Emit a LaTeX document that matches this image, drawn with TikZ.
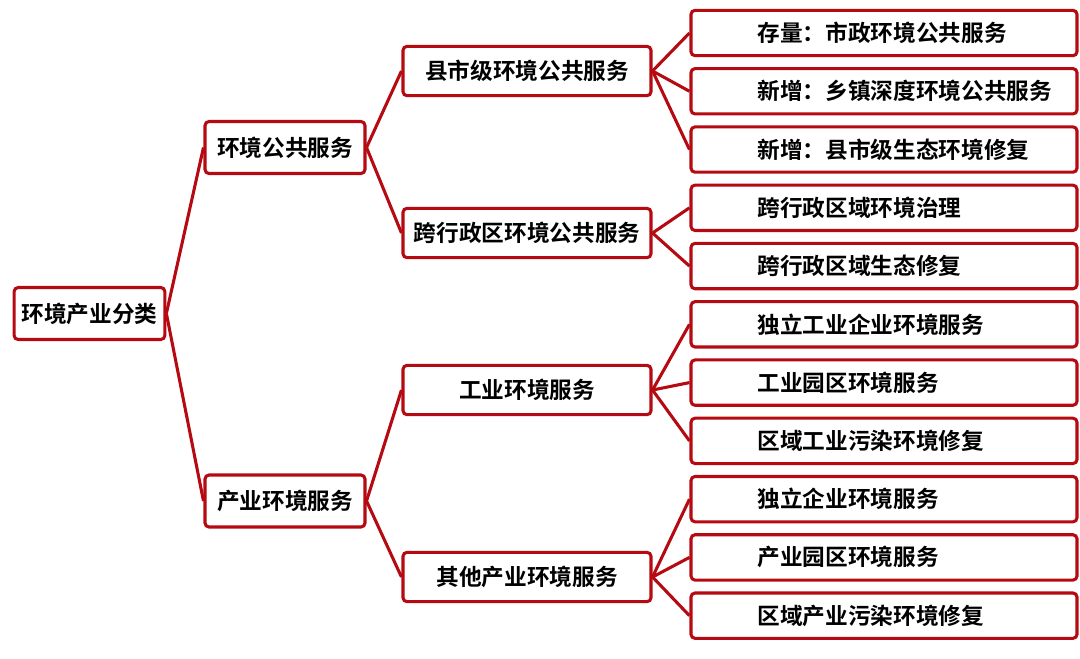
\documentclass[tikz,border=0pt]{standalone}
\usepackage{fontspec}
\setmainfont{Noto Sans CJK SC}[BoldFont={Noto Sans CJK SC Bold}]
\usetikzlibrary{positioning}
\definecolor{boxred}{RGB}{182,10,18}

\begin{document}
\begin{tikzpicture}[x=0.75pt,y=-0.75pt,
  box/.style={rectangle,draw=boxred,line width=2.3pt,rounded corners=3pt,fill=white,inner xsep=2pt,font=\bfseries\fontsize{17}{20}\selectfont},
  leaf/.style={box,minimum width=289.5pt,minimum height=34pt,text width=190pt,align=left},
  link/.style={draw=boxred,line width=2.3pt}]
  \useasboundingbox (0,0) rectangle (1080,658);
  % root and first level
  \node[box,minimum width=113pt,minimum height=39pt] (root) at (89.5,313.5) {环境产业分类};
  \node[box,minimum width=120pt,minimum height=39pt] (pub) at (285,147.5) {环境公共服务};
  \node[box,minimum width=120pt,minimum height=39pt] (ind) at (285,501) {产业环境服务};
  % second level
  \node[box,minimum width=186pt,minimum height=37pt] (county) at (527,71) {县市级环境公共服务};
  \node[box,minimum width=186pt,minimum height=37pt] (cross) at (527,233) {跨行政区环境公共服务};
  \node[box,minimum width=186pt,minimum height=37pt] (indserv) at (527,390) {工业环境服务};
  \node[box,minimum width=186pt,minimum height=37pt] (other) at (527,577) {其他产业环境服务};
  % leaves
  \node[leaf] (stock) at (884,33) {存量：市政环境公共服务};
  \node[leaf,below=7.4pt of stock] (town) {新增：乡镇深度环境公共服务};
  \node[leaf,below=7.4pt of town] (repair) {新增：县市级生态环境修复};
  \node[leaf,below=7.4pt of repair] (govern) {跨行政区域环境治理};
  \node[leaf,below=7.4pt of govern] (eco) {跨行政区域生态修复};
  \node[leaf,below=7.4pt of eco] (indfirm) {独立工业企业环境服务};
  \node[leaf,below=7.4pt of indfirm] (indpark) {工业园区环境服务};
  \node[leaf,below=7.4pt of indpark] (indfix) {区域工业污染环境修复};
  \node[leaf,below=7.4pt of indfix] (firm) {独立企业环境服务};
  \node[leaf,below=7.4pt of firm] (park) {产业园区环境服务};
  \node[leaf,below=7.4pt of park] (fix) {区域产业污染环境修复};
  % connectors
  \foreach \from/\to in {root/pub,root/ind,pub/county,pub/cross,ind/indserv,ind/other,
      county/stock,county/town,county/repair,cross/govern,cross/eco,
      indserv/indfirm,indserv/indpark,indserv/indfix,other/firm,other/park,other/fix}
    \draw[link] (\from.east) -- (\to.west);
\end{tikzpicture}
\end{document}
